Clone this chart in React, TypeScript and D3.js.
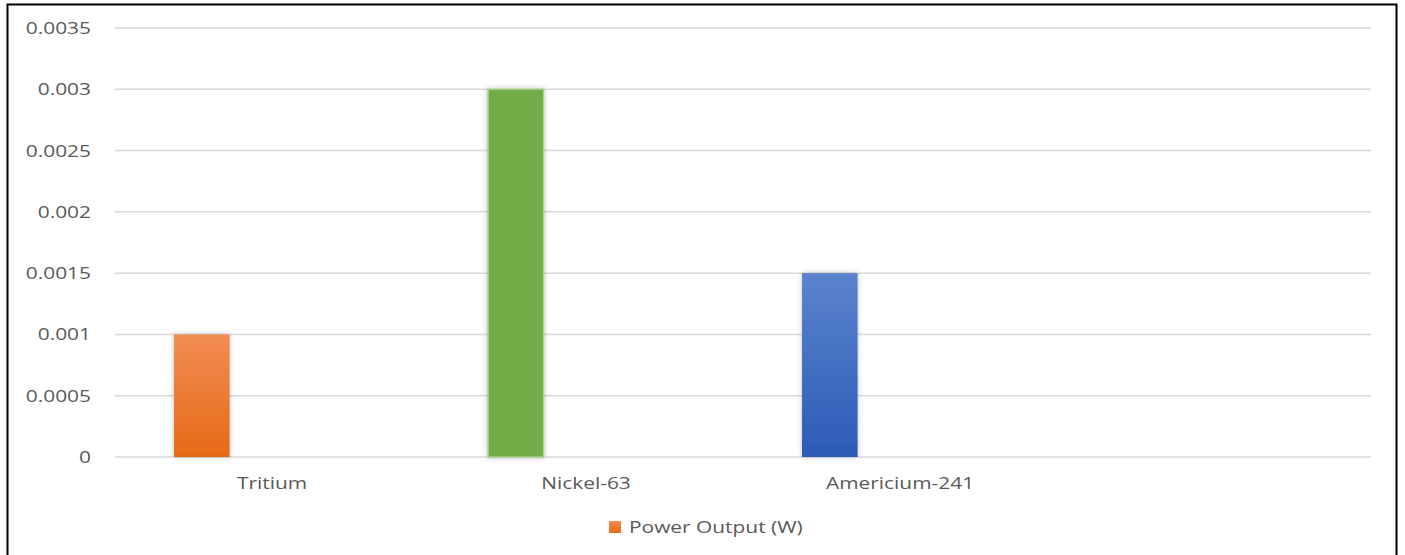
import React from "react";
import * as d3 from "d3";

const categories = ["Tritium", "Nickel-63", "Americium-241", ""];
const powerOutput = [0.001, 0.003, 0.0015, null];
const yTicks = [0, 0.0005, 0.001, 0.0015, 0.002, 0.0025, 0.003, 0.0035];
const tickLabels = ["0", "0.0005", "0.001", "0.0015", "0.002", "0.0025", "0.003", "0.0035"];
const seriesName = "Power Output (W)";

const W = 1405;
const H = 555;
const plot = { left: 115, right: 1371, top: 28, bottom: 457 };
const FONT = "'Open Sans', sans-serif";
const SX = 1.23;
const TEXT = "#595959";

const gradients = [
  { id: "gOrange", top: "#F28C52", bottom: "#E66A17", stroke: "none" },
  { id: "gGreen", top: "#70AD47", bottom: "#70AD47", stroke: "#A9D18E" },
  { id: "gBlue", top: "#5B83CD", bottom: "#2C5BB7", stroke: "none" },
];

export default function App() {
  const x = d3.scaleBand<string>().domain(categories).range([plot.left, plot.right]).padding(0);
  const y = d3.scaleLinear().domain([0, 0.0035]).range([plot.bottom, plot.top]);
  const bw = x.bandwidth();
  const barOffset = bw * 0.188;
  const barW = bw * 0.177;

  return (
    <svg width={W} height={H} style={{ position: "absolute", left: 0, top: 0, background: "#fff" }}>
      <defs>
        {gradients.map((g) => (
          <linearGradient key={g.id} id={g.id} x1="0" y1="0" x2="0" y2="1">
            <stop offset="0%" stopColor={g.top} />
            <stop offset="100%" stopColor={g.bottom} />
          </linearGradient>
        ))}
        <filter id="shadow" x="-30%" y="-10%" width="160%" height="120%">
          <feDropShadow dx="0" dy="0" stdDeviation="2.5" floodColor="#000" floodOpacity="0.25" />
        </filter>
      </defs>
      <rect x={0} y={0} width={W} height={H} fill="#fff" />
      {/* outer border */}
      <rect x={7.5} y={4.5} width={1389} height={H + 10} fill="none" stroke="#000" strokeWidth={2} />

      {/* gridlines */}
      {yTicks.map((t, i) => (
        <line key={i} x1={plot.left} x2={plot.right} y1={y(t)} y2={y(t)} stroke="#D9D9D9" strokeWidth={1.5} />
      ))}

      {/* y tick labels */}
      {yTicks.map((t, i) => (
        <text
          key={i}
          transform={`translate(91,${y(t) + 6}) scale(${SX},1)`}
          textAnchor="end"
          fontFamily={FONT}
          fontSize={17}
          fill={TEXT}
        >
          {tickLabels[i]}
        </text>
      ))}

      {/* bars */}
      {categories.map((c, i) => {
        const v = powerOutput[i];
        if (v == null) return null;
        const g = gradients[i];
        const x0 = (x(c) as number) + barOffset;
        return (
          <rect
            key={c}
            x={x0}
            y={y(v)}
            width={barW}
            height={y(0) - y(v)}
            fill={`url(#${g.id})`}
            stroke={g.stroke}
            strokeWidth={g.stroke === "none" ? 0 : 1.5}
            filter="url(#shadow)"
          />
        );
      })}

      {/* category labels */}
      {categories.map((c) => (
        <text
          key={c || "empty"}
          transform={`translate(${(x(c) as number) + bw / 2},489) scale(${SX},1)`}
          textAnchor="middle"
          fontFamily={FONT}
          fontSize={17}
          fill={TEXT}
        >
          {c}
        </text>
      ))}

      {/* legend */}
      <rect x={609} y={521} width={12} height={12} fill="url(#gOrange)" />
      <text transform={`translate(629,533) scale(${SX},1)`} fontFamily={FONT} fontSize={17} fill={TEXT}>
        {seriesName}
      </text>
    </svg>
  );
}
